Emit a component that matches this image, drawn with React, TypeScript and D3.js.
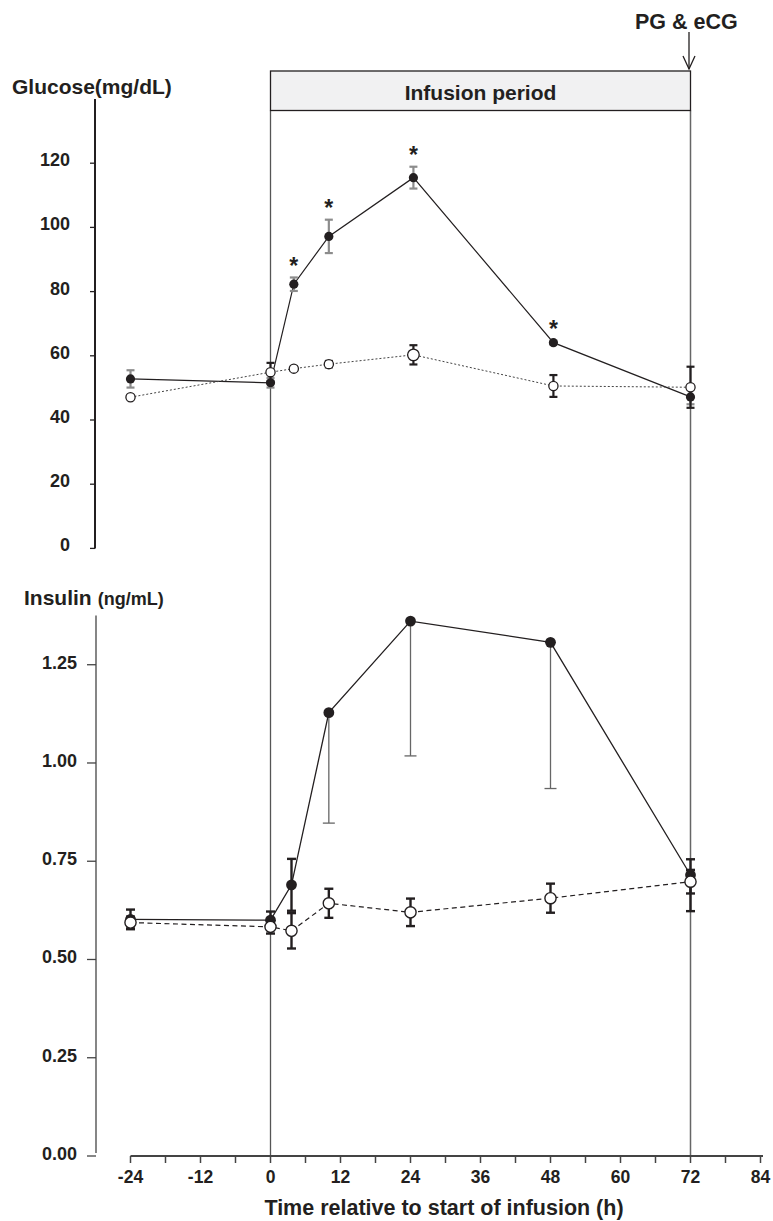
import React from "react";
import * as d3 from "d3";

// ---- Data ----
const glucoseTimes = [-24, 0, 4, 10, 24.5, 48.5, 72];
const glucoseTreated = [52.8, 51.6, 82.3, 97.2, 115.5, 64.1, 47.2];
const glucoseTreatedErr = [2.7, 1.5, 2.1, 5.2, 3.4, 0.6, 2.3];
const glucoseSignif = [false, false, true, true, true, true, false];
const glucoseControl = [47.1, 54.9, 56.0, 57.4, 60.3, 50.6, 50.2];
const glucoseControlErr = [0.5, 2.9, 0.6, 1.0, 3.0, 3.4, 6.4];

const insulinTimes = [-24, 0, 3.6, 10, 24, 48, 72];
const insulinTreated = [0.602, 0.6, 0.69, 1.128, 1.361, 1.307, 0.715];
const insulinTreatedErrUp = [0.025, 0.022, 0.066, 0, 0, 0, 0.04];
const insulinTreatedErrDown = [0.025, 0.022, 0.066, 0.281, 0.343, 0.372, 0.092];
const insulinControl = [0.594, 0.583, 0.573, 0.643, 0.62, 0.656, 0.698];
const insulinControlErr = [0.015, 0.017, 0.045, 0.037, 0.035, 0.037, 0.03];

const xTicksMinor = d3.range(-24, 85, 6);
const xTickLabels = [-24, -12, 0, 12, 24, 36, 48, 60, 72, 84];
const glucoseTicks = [0, 20, 40, 60, 80, 100, 120];
const insulinTicks = [0, 0.25, 0.5, 0.75, 1.0, 1.25];

const infusionStart = 0;
const infusionEnd = 72;

const INK = "#231f20";
const FONT = "'Liberation Sans', Arial, Helvetica, sans-serif";

export default function App() {
  const x = d3.scaleLinear().domain([-24, 84]).range([130.5, 760.5]);
  const gY = d3.scaleLinear().domain([0, 140]).range([548.4, 99]);
  const iY = d3.scaleLinear().domain([0, 1.375]).range([1156, 615.6]);

  const gLine = d3
    .line<number>()
    .x((_, i) => x(glucoseTimes[i]))
    .y((d) => gY(d));
  const iLine = d3
    .line<number>()
    .x((_, i) => x(insulinTimes[i]))
    .y((d) => iY(d));

  const errBar = (
    key: string,
    cx: number,
    yTop: number,
    yBot: number,
    color: string,
    width: number,
    cap: number,
    capTop = true,
    capBot = true
  ) => (
    <g key={key}>
      <line x1={cx} x2={cx} y1={yTop} y2={yBot} stroke={color} strokeWidth={width} />
      {capTop && (
        <line x1={cx - cap / 2} x2={cx + cap / 2} y1={yTop} y2={yTop} stroke={color} strokeWidth={width} />
      )}
      {capBot && (
        <line x1={cx - cap / 2} x2={cx + cap / 2} y1={yBot} y2={yBot} stroke={color} strokeWidth={width} />
      )}
    </g>
  );

  const x0 = x(infusionStart);
  const x72 = x(infusionEnd);
  const boxTop = 71;
  const boxBot = 110.5;

  return (
    <svg
      width={773}
      height={1221}
      style={{ position: "absolute", left: 0, top: 0, background: "#fff" }}
      fontFamily={FONT}
    >
      <rect x={0} y={0} width={773} height={1221} fill="#fff" />

      {/* Infusion period vertical lines */}
      <line x1={x0} x2={x0} y1={boxBot} y2={1156} stroke="#555" strokeWidth={1.3} />
      <line x1={x72} x2={x72} y1={boxBot} y2={1156} stroke="#666" strokeWidth={1.5} />

      {/* Infusion period box */}
      <rect x={x0} y={boxTop} width={x72 - x0} height={boxBot - boxTop} fill="#f1f1f2" stroke={INK} strokeWidth={1.3} />
      <text x={(x0 + x72) / 2} y={99.5} textAnchor="middle" fontWeight="bold" fontSize={21} fill={INK}>
        Infusion period
      </text>

      {/* PG & eCG arrow */}
      <text x={635} y={29} fontWeight="bold" fontSize={21.5} fill={INK}>
        PG &amp; eCG
      </text>
      <line x1={x72 - 1.5} x2={x72 - 1.5} y1={32} y2={69} stroke={INK} strokeWidth={1.3} />
      <polyline
        points={`${x72 - 7.5},56 ${x72 - 1.5},69 ${x72 + 4.5},56`}
        fill="none"
        stroke={INK}
        strokeWidth={1.3}
      />

      {/* Glucose axis */}
      <text x={12} y={94} fontWeight="bold" fontSize={21} fill={INK}>
        Glucose(mg/dL)
      </text>
      <line x1={95} x2={95} y1={gY(0)} y2={gY(140)} stroke={INK} strokeWidth={2} />
      {glucoseTicks.map((t) => (
        <g key={"gt" + t}>
          <line x1={90} x2={95} y1={gY(t)} y2={gY(t)} stroke={INK} strokeWidth={1.3} />
          <text x={70} y={gY(t) + 3} textAnchor="end" fontWeight="bold" fontSize={18} fill={INK}>
            {t}
          </text>
        </g>
      ))}

      {/* Insulin axis */}
      <text x={24} y={605} fontWeight="bold" fontSize={21} fill={INK}>
        Insulin
        <tspan fontSize={18} dx={6}>
          (ng/mL)
        </tspan>
      </text>
      <line x1={96} x2={96} y1={1153} y2={iY(1.375)} stroke="#444" strokeWidth={1.3} />
      {insulinTicks.map((t) => (
        <g key={"it" + t}>
          <line x1={87} x2={96} y1={iY(t)} y2={iY(t)} stroke="#444" strokeWidth={1.3} />
          <text x={77} y={iY(t) + 4} textAnchor="end" fontWeight="bold" fontSize={18} fill={INK}>
            {d3.format(".2f")(t)}
          </text>
        </g>
      ))}

      {/* X axis */}
      <line x1={x(-24)} x2={763} y1={1156} y2={1156} stroke="#444" strokeWidth={2} />
      {xTicksMinor.map((t) => (
        <line key={"xt" + t} x1={x(t)} x2={x(t)} y1={1156} y2={1163} stroke="#444" strokeWidth={1.5} />
      ))}
      {xTickLabels.map((t) => (
        <text key={"xl" + t} x={x(t)} y={1183} textAnchor="middle" fontWeight="bold" fontSize={17.5} fill={INK}>
          {t}
        </text>
      ))}
      <text x={444} y={1215} textAnchor="middle" fontWeight="bold" fontSize={21.5} fill={INK}>
        Time relative to start of infusion (h)
      </text>

      {/* ---------- Glucose panel ---------- */}
      <path d={gLine(glucoseTreated) || ""} fill="none" stroke={INK} strokeWidth={1.2} />
      {glucoseTreated.map((v, i) =>
        errBar(
          "ge" + i,
          x(glucoseTimes[i]),
          gY(v + glucoseTreatedErr[i]),
          gY(v - glucoseTreatedErr[i]),
          "#8c8c8c",
          2.2,
          8
        )
      )}
      {glucoseTreated.map((v, i) => (
        <circle key={"gp" + i} cx={x(glucoseTimes[i])} cy={gY(v)} r={4.6} fill={INK} />
      ))}
      {glucoseTreated.map((v, i) =>
        glucoseSignif[i] ? (
          <text
            key={"gs" + i}
            x={x(glucoseTimes[i])}
            y={gY(v + glucoseTreatedErr[i]) - 3.3}
            textAnchor="middle"
            fontWeight="bold"
            fontSize={23}
            fill={INK}
          >
            *
          </text>
        ) : null
      )}

      <path
        d={gLine(glucoseControl) || ""}
        fill="none"
        stroke="#444"
        strokeWidth={1}
        strokeDasharray="2,2"
      />
      {glucoseControl.map((v, i) =>
        errBar(
          "gce" + i,
          x(glucoseTimes[i]),
          gY(v + glucoseControlErr[i]),
          gY(v - glucoseControlErr[i]),
          INK,
          2.2,
          8
        )
      )}
      {glucoseControl.map((v, i) => (
        <circle
          key={"gc" + i}
          cx={x(glucoseTimes[i])}
          cy={gY(v)}
          r={i === 4 ? 5.8 : 4.6}
          fill="#fff"
          stroke={INK}
          strokeWidth={1.3}
        />
      ))}

      {/* ---------- Insulin panel ---------- */}
      <path d={iLine(insulinTreated) || ""} fill="none" stroke={INK} strokeWidth={1.3} />
      {insulinTreated.map((v, i) => {
        const big = insulinTreatedErrDown[i] > 0.1;
        return errBar(
          "ie" + i,
          x(insulinTimes[i]),
          iY(v + insulinTreatedErrUp[i]),
          iY(v - insulinTreatedErrDown[i]),
          big ? "#666" : INK,
          big ? 1.3 : 2.4,
          big ? 12 : 9,
          insulinTreatedErrUp[i] > 0,
          true
        );
      })}
      {insulinTreated.map((v, i) => (
        <circle key={"ip" + i} cx={x(insulinTimes[i])} cy={iY(v)} r={5.4} fill={INK} />
      ))}

      <path
        d={iLine(insulinControl) || ""}
        fill="none"
        stroke={INK}
        strokeWidth={1.2}
        strokeDasharray="5,3.5"
      />
      {insulinControl.map((v, i) =>
        errBar(
          "ice" + i,
          x(insulinTimes[i]),
          iY(v + insulinControlErr[i]),
          iY(v - insulinControlErr[i]),
          INK,
          2.4,
          9
        )
      )}
      {insulinControl.map((v, i) => (
        <circle
          key={"ic" + i}
          cx={x(insulinTimes[i])}
          cy={iY(v)}
          r={5.6}
          fill="#fff"
          stroke={INK}
          strokeWidth={1.4}
        />
      ))}
    </svg>
  );
}
